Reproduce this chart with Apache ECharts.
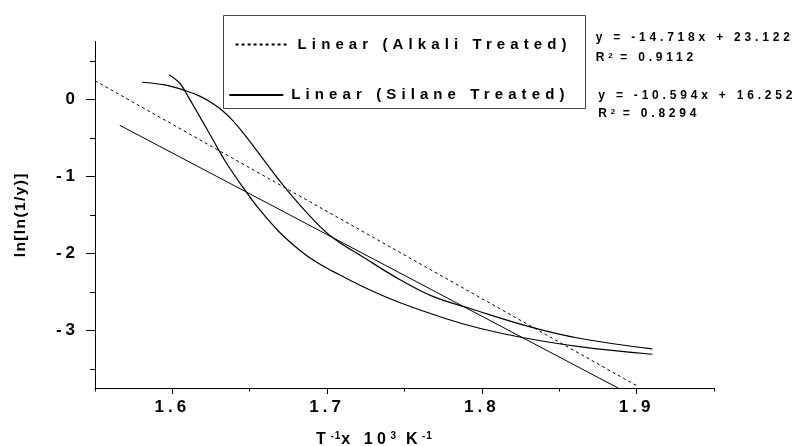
<!DOCTYPE html>
<html>
<head>
<meta charset="utf-8">
<script src="https://cdn.jsdelivr.net/npm/echarts@6/dist/echarts.min.js"></script>
<style>
  html, body { margin: 0; background: #fff; }
  #chart { width: 793px; height: 446px; }
</style>
</head>
<body>
<div id="chart"></div>
<script>
// ---- data -------------------------------------------------------------
// Measured curves, [T^-1 x 10^3 (1/K), ln[ln(1/y)]]
const alkaliCurve = [
  [1.5979, 0.316], [1.6048, 0.208], [1.6102, 0.034], [1.6177, -0.226],
  [1.6263, -0.529], [1.6350, -0.831], [1.6468, -1.178], [1.6565, -1.438],
  [1.6694, -1.730], [1.6823, -1.960], [1.6930, -2.115], [1.7037, -2.235],
  [1.7253, -2.455], [1.7468, -2.640], [1.7769, -2.850], [1.7984, -2.974],
  [1.8253, -3.091], [1.8629, -3.213], [1.9102, -3.312]
];
const silaneCurve = [
  [1.5805, 0.221], [1.5952, 0.186], [1.6070, 0.121], [1.6177, 0.041],
  [1.6263, -0.058], [1.6328, -0.156], [1.6392, -0.281], [1.6474, -0.478],
  [1.6565, -0.719], [1.6705, -1.090], [1.6855, -1.443], [1.7016, -1.765],
  [1.7253, -2.075], [1.7468, -2.340], [1.7683, -2.560], [1.7919, -2.714],
  [1.8306, -2.953], [1.8629, -3.104], [1.9102, -3.243]
];
// Linear trendlines (end points)
const alkaliTrend = [[1.55, 0.24], [1.90, -3.72]];
const silaneTrend = [[1.566, -0.338], [1.888, -3.75]];

// Trendline captions
const trendLabels = ['Linear (Alkali Treated)', 'Linear (Silane Treated)'];
const equations = ['y = -14.718x + 23.122', 'y = -10.594x + 16.252'];
const rSquared = ['0.9112', '0.8294'];

// Axes
const xRange = [1.55, 1.95];
const yRange = [-3.75, 0.75];
const xMajorTicks = [1.6, 1.7, 1.8, 1.9];
const xMinorTicks = [1.55, 1.65, 1.75, 1.85, 1.95];
const yMajorTicks = [-3, -2, -1, 0];
const yMinorTicks = [-3.5, -2.5, -1.5, -0.5, 0.5];

// ---- spreadsheet-style letter tracking (px, keyed by font size) -------
const TRACKING = { 17: 4, 16: 4.5, 15.5: 1.4, 15: 5.1, 12: 3.8, 10: 1, 8: 0.5 };
(function () {
  const proto = CanvasRenderingContext2D.prototype;
  if (!('letterSpacing' in proto)) return;
  ['fillText', 'strokeText', 'measureText'].forEach(function (fn) {
    const base = proto[fn];
    proto[fn] = function () {
      const m = /([\d.]+)px/.exec(this.font);
      this.letterSpacing = ((m && TRACKING[parseFloat(m[1])]) || 0) + 'px';
      return base.apply(this, arguments);
    };
  });
})();

// ---- chart ------------------------------------------------------------
const FONT = 'Arial, "Liberation Sans", sans-serif';
const INK = '#000';
const bold = (size) => ({ color: INK, fontSize: size, fontWeight: 'bold', fontFamily: FONT });
const supStyle = (size, lh) => Object.assign(bold(size), { verticalAlign: 'top', lineHeight: lh });

const chart = echarts.init(document.getElementById('chart'), null, { renderer: 'canvas' });

const valueAxisBase = {
  type: 'value',
  splitLine: { show: false },
  axisLine: { onZero: false, lineStyle: { color: INK, width: 1 } },
  axisTick: { lineStyle: { color: INK, width: 1 } }
};

const legendBase = {
  padding: 0, itemWidth: 54, itemHeight: 14, selectedMode: false,
  itemStyle: { opacity: 0 },
  textStyle: Object.assign(bold(15), { padding: [0, 0, 0, 3] })
};

const eqStyle = (text) => ({
  text: text, fill: INK, verticalAlign: 'middle',
  fontSize: 12, fontWeight: 'bold', fontFamily: FONT, lineHeight: 12,
  rich: { sup: { fontSize: 8, fontWeight: 'bold', fontFamily: FONT, fill: INK, verticalAlign: 'top', lineHeight: 8 } }
});

const option = {
  animation: false,
  backgroundColor: '#fff',
  grid: { left: 95, right: 79, top: 41.5, bottom: 58, outerBoundsMode: 'none', containLabel: false },
  xAxis: [
    Object.assign({}, valueAxisBase, {
      min: xRange[0], max: xRange[1], position: 'bottom',
      axisTick: { customValues: xMajorTicks, length: 6, lineStyle: { color: INK } },
      axisLabel: Object.assign(bold(17), {
        customValues: xMajorTicks, margin: 9,
        formatter: (v) => v.toFixed(1)
      }),
      name: 'T{sup|-1}x 10{sup|3} K{sup|-1}',
      nameLocation: 'middle', nameGap: 43,
      nameTextStyle: Object.assign(bold(16), {
        lineHeight: 18, padding: [0, 60, 0, 0],
        rich: { sup: supStyle(10, 10) }
      })
    }),
    Object.assign({}, valueAxisBase, {
      min: xRange[0], max: xRange[1], position: 'bottom',
      axisLine: { show: false, onZero: false },
      axisTick: { customValues: xMinorTicks, length: 3.5, lineStyle: { color: INK } },
      axisLabel: { show: false }
    })
  ],
  yAxis: [
    Object.assign({}, valueAxisBase, {
      min: yRange[0], max: yRange[1], position: 'left',
      axisTick: { customValues: yMajorTicks, length: 9, lineStyle: { color: INK } },
      axisLabel: Object.assign(bold(17), { customValues: yMajorTicks, margin: 16 }),
      name: 'ln[ln(1/y)]',
      nameLocation: 'middle', nameRotate: 90, nameGap: 66,
      nameTextStyle: bold(15.5)
    }),
    Object.assign({}, valueAxisBase, {
      min: yRange[0], max: yRange[1], position: 'left',
      axisLine: { show: false, onZero: false },
      axisTick: { customValues: yMinorTicks, length: 5, lineStyle: { color: INK } },
      axisLabel: { show: false }
    })
  ],
  legend: [
    Object.assign({ data: [trendLabels[0]], left: 234.6, top: 34.5 }, legendBase),
    Object.assign({ data: [trendLabels[1]], left: 228.3, top: 85 }, legendBase)
  ],
  graphic: [
    {
      type: 'rect', silent: true,
      shape: { x: 223.5, y: 15.5, width: 362, height: 93 },
      style: { fill: 'none', stroke: '#444', lineWidth: 1 }
    },
    { type: 'text', x: 595.7, y: 37.5, silent: true, style: eqStyle(equations[0]) },
    { type: 'text', x: 595.7, y: 58, silent: true, style: eqStyle('R{sup|2} = ' + rSquared[0]) },
    { type: 'text', x: 598.3, y: 95.5, silent: true, style: eqStyle(equations[1]) },
    { type: 'text', x: 598.3, y: 114, silent: true, style: eqStyle('R{sup|2} = ' + rSquared[1]) }
  ],
  series: [
    {
      name: 'Alkali Treated', type: 'line', data: alkaliCurve,
      smooth: 0.4, symbol: 'none', silent: true,
      lineStyle: { color: INK, width: 1.2 }
    },
    {
      name: 'Silane Treated', type: 'line', data: silaneCurve,
      smooth: 0.4, symbol: 'none', silent: true,
      lineStyle: { color: INK, width: 1.2 }
    },
    {
      name: trendLabels[0], type: 'line', data: alkaliTrend,
      symbol: 'none', silent: true,
      lineStyle: { color: INK, width: 1, type: [3, 3] }
    },
    {
      name: trendLabels[1], type: 'line', data: silaneTrend,
      symbol: 'none', silent: true,
      lineStyle: { color: INK, width: 1 }
    }
  ]
};

chart.setOption(option);
</script>
</body>
</html>
